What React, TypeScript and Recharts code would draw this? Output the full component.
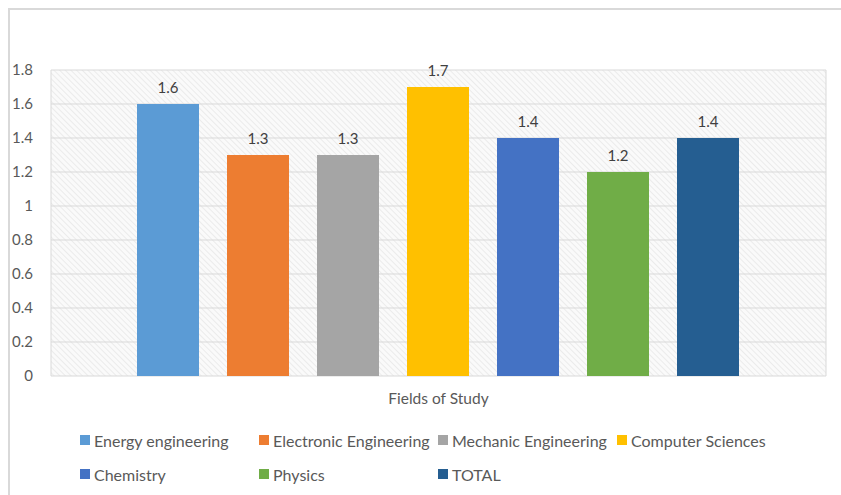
import React from "react";
import { BarChart, Bar, XAxis, YAxis, CartesianGrid, LabelList } from "recharts";

const categories = ["Fields of Study"];
const seriesNames = [
  "Energy engineering",
  "Electronic Engineering",
  "Mechanic Engineering",
  "Computer Sciences",
  "Chemistry",
  "Physics",
  "TOTAL",
];
const seriesValues = [1.6, 1.3, 1.3, 1.7, 1.4, 1.2, 1.4];
const seriesColors = ["#5b9bd5", "#ed7d31", "#a5a5a5", "#ffc000", "#4472c4", "#70ad47", "#255e91"];
const yTicks = [0, 0.2, 0.4, 0.6, 0.8, 1, 1.2, 1.4, 1.6, 1.8];

const data = categories.map((c) => {
  const row: Record<string, any> = { name: c };
  seriesNames.forEach((s, i) => {
    row[s] = seriesValues[i];
  });
  return row;
});

const FONT = "Lato, 'Open Sans', sans-serif";
const TEXT = "#595959";

export default function App() {
  const chartW = 820;
  const chartH = 485;
  return (
    <div
      style={{
        position: "fixed",
        left: 0,
        top: 0,
        width: 841,
        height: 495,
        overflow: "hidden",
        background: "#fff",
        fontFamily: FONT,
      }}
    >
      <div style={{ position: "absolute", left: 8, top: 8, width: 833, height: 2, background: "#d9d9d9" }} />
      <div style={{ position: "absolute", left: 8, top: 8, width: 2, height: 487, background: "#d9d9d9" }} />
      <div style={{ position: "absolute", left: 10, top: 10 }}>
        <BarChart
          width={chartW}
          height={chartH}
          data={data}
          margin={{ top: 60, right: 4, bottom: 79, left: 0 }}
          barCategoryGap={86}
          barGap={28}
        >
          <defs>
            <pattern
              id="hatch"
              width="4"
              height="4"
              patternUnits="userSpaceOnUse"
              patternTransform="rotate(-45)"
            >
              <rect width="4" height="4" fill="#fafafa" />
              <line x1="0" y1="0" x2="0" y2="4" stroke="#e6e6e6" strokeWidth="1.5" />
            </pattern>
          </defs>
          <CartesianGrid
            fill="url(#hatch)"
            stroke="#d9d9d9"
            verticalCoordinatesGenerator={({ offset }: any) => [offset.left, offset.left + offset.width]}
          />
          <XAxis
            dataKey="name"
            tickLine={false}
            axisLine={false}
            height={40}
            tickSize={6}
            tickMargin={11}
            tick={{ fill: TEXT, fontSize: 15.5, fontFamily: FONT }}
          />
          <YAxis
            domain={[0, 1.8]}
            ticks={yTicks}
            width={41}
            tickLine={false}
            axisLine={false}
            tickSize={6}
            tickMargin={12}
            interval={0}
            tick={{ fill: TEXT, fontSize: 15, fontFamily: FONT }}
          />
          {seriesNames.map((s, i) => (
            <Bar key={s} dataKey={s} fill={seriesColors[i]} isAnimationActive={false}>
              <LabelList
                dataKey={s}
                position="top"
                offset={11}
                fill="#404040"
                fontSize={15}
                fontFamily={FONT}
              />
            </Bar>
          ))}
        </BarChart>
        <div
          style={{
            position: "absolute",
            left: 70,
            top: 420,
            width: 740,
            display: "flex",
            flexWrap: "wrap",
            rowGap: 14,
          }}
        >
          {seriesNames.map((s, i) => (
            <div
              key={s}
              style={{
                width: 179,
                height: 20,
                display: "flex",
                alignItems: "center",
                color: TEXT,
                fontSize: 16,
                whiteSpace: "nowrap",
              }}
            >
              <span
                style={{
                  display: "inline-block",
                  width: 10,
                  height: 10,
                  background: seriesColors[i],
                  marginRight: 4,
                  flexShrink: 0,
                }}
              />
              {s}
            </div>
          ))}
        </div>
      </div>
    </div>
  );
}
